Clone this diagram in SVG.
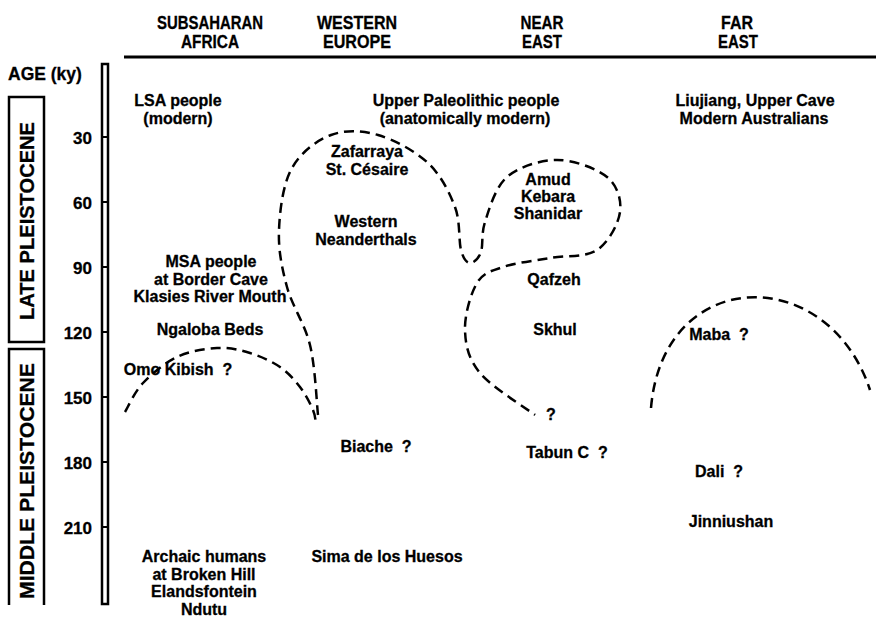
<svg xmlns="http://www.w3.org/2000/svg" width="876" height="618" viewBox="0 0 876 618">
<style>
text{font-family:"Liberation Sans",Arial,Helvetica,sans-serif;font-weight:bold;fill:#000;stroke:#000;stroke-width:0.3;white-space:pre}
.h{font-size:17.5px;text-anchor:middle}
.t{font-size:16px;text-anchor:middle}
.a{font-size:17px;text-anchor:end}
.p{font-size:20px;text-anchor:middle}
.box{fill:none;stroke:#000;stroke-width:2.5}
.dash{fill:none;stroke:#000;stroke-width:2.5;stroke-dasharray:10 6}
</style>
<rect width="876" height="618" fill="#fff"/>
<g id="headers">
<text class="h" x="210" y="29" textLength="106" lengthAdjust="spacingAndGlyphs">SUBSAHARAN</text>
<text class="h" x="210" y="48" textLength="58" lengthAdjust="spacingAndGlyphs">AFRICA</text>
<text class="h" x="357" y="29" textLength="80" lengthAdjust="spacingAndGlyphs">WESTERN</text>
<text class="h" x="357" y="48" textLength="68" lengthAdjust="spacingAndGlyphs">EUROPE</text>
<text class="h" x="542" y="29" textLength="43" lengthAdjust="spacingAndGlyphs">NEAR</text>
<text class="h" x="542" y="48" textLength="40" lengthAdjust="spacingAndGlyphs">EAST</text>
<text class="h" x="737" y="29" textLength="32" lengthAdjust="spacingAndGlyphs">FAR</text>
<text class="h" x="738" y="48" textLength="40" lengthAdjust="spacingAndGlyphs">EAST</text>
<line x1="124" y1="57" x2="876" y2="57" stroke="#000" stroke-width="3"/>
</g>
<g id="axis">
<text x="8" y="80" style="font-size:17.5px">AGE (ky)</text>
<rect class="box" x="102" y="64" width="6" height="540"/>
<g stroke="#000" stroke-width="2">
<line x1="102" y1="137" x2="108" y2="137"/><line x1="102" y1="202" x2="108" y2="202"/>
<line x1="102" y1="267" x2="108" y2="267"/><line x1="102" y1="332" x2="108" y2="332"/>
<line x1="102" y1="397" x2="108" y2="397"/><line x1="102" y1="462" x2="108" y2="462"/>
<line x1="102" y1="527" x2="108" y2="527"/>
</g>
<text class="a" x="92" y="144">30</text><text class="a" x="92" y="209">60</text>
<text class="a" x="92" y="274">90</text><text class="a" x="92" y="339">120</text>
<text class="a" x="92" y="404">150</text><text class="a" x="92" y="469">180</text>
<text class="a" x="92" y="534">210</text>
</g>
<g id="late-pleistocene">
<rect class="box" x="9" y="97" width="35" height="245"/>
<text class="p" transform="translate(34,221) rotate(-90)" textLength="198" lengthAdjust="spacingAndGlyphs">LATE PLEISTOCENE</text>
</g>
<g id="middle-pleistocene">
<path class="box" d="M9,605 V349 H44 V605"/>
<text class="p" transform="translate(34,481) rotate(-90)" textLength="236" lengthAdjust="spacingAndGlyphs">MIDDLE PLEISTOCENE</text>
</g>
<g id="connectors">
<path class="dash" d="M318,415 C316.7,403.3 315.2,366.3 310,345 C304.8,323.7 292.2,306.2 287,287 C281.8,267.8 278.2,249.8 279,230 C279.8,210.2 283,183.8 292,168 C301,152.2 316.3,140.5 331,135 C345.7,129.5 361.8,130.3 378,135 C394.2,139.7 415.2,151 428,163 C440.8,175 449.5,192.5 455,207 C460.5,221.5 458.5,240.7 461,250 C463.5,259.3 466.7,262.7 470,263 C473.3,263.3 478.7,258.8 481,252 C483.3,245.2 481,234.5 485,222 C489,209.5 495.2,187.3 507,177 C518.8,166.7 540.3,160 557,160 C573.7,160 596.5,168.3 607,177 C617.5,185.7 621.7,199.8 620,212 C618.3,224.2 608.7,242.3 597,250 C585.3,257.7 565.7,255.2 550,258 C534.3,260.8 515.2,262.8 503,267 C490.8,271.2 483.3,272.5 477,283 C470.7,293.5 464.5,315 465,330 C465.5,345 468.3,358.8 480,373 C491.7,387.2 525.8,408 535,415"/>
<path class="dash" d="M125,412 C128,407.2 134.3,392.2 143,383 C151.7,373.8 164.7,362.8 177,357 C189.3,351.2 204.8,348.7 217,348 C229.2,347.3 239.5,349.8 250,353 C260.5,356.2 271.7,361.3 280,367 C288.3,372.7 294.5,379.8 300,387 C305.5,394.2 310.3,403.7 313,410 C315.7,416.3 315.5,422.5 316,425"/>
<path class="dash" d="M651,408 C663,265 828,262 870,390"/>
</g>
<g id="africa">
<text class="t" x="178" y="106">LSA people</text><text class="t" x="178" y="124">(modern)</text>
<text class="t" x="211" y="267">MSA people</text><text class="t" x="211" y="285">at Border Cave</text><text class="t" x="210" y="302">Klasies River Mouth</text>
<text class="t" x="210" y="335">Ngaloba Beds</text>
<text class="t" x="178" y="375">Omo Kibish  ?</text>
<text class="t" x="204" y="562">Archaic humans</text><text class="t" x="204" y="580">at Broken Hill</text><text class="t" x="204" y="597">Elandsfontein</text><text class="t" x="204" y="615">Ndutu</text>
</g>
<g id="europe">
<text class="t" x="466" y="106">Upper Paleolithic people</text><text class="t" x="465" y="124">(anatomically modern)</text>
<text class="t" x="367" y="157">Zafarraya</text><text class="t" x="367" y="175">St. Césaire</text>
<text class="t" x="366" y="227">Western</text><text class="t" x="366" y="245">Neanderthals</text>
<text class="t" x="376" y="452">Biache  ?</text>
<text class="t" x="387" y="562">Sima de los Huesos</text>
</g>
<g id="near-east">
<text class="t" x="548" y="185">Amud</text><text class="t" x="548" y="202">Kebara</text><text class="t" x="548" y="219">Shanidar</text>
<text class="t" x="554" y="285">Qafzeh</text>
<text class="t" x="555" y="335">Skhul</text>
<text class="t" x="551" y="420">?</text>
<text class="t" x="567" y="458">Tabun C  ?</text>
</g>
<g id="far-east">
<text class="t" x="755" y="106">Liujiang, Upper Cave</text><text class="t" x="754" y="124">Modern Australians</text>
<text class="t" x="719" y="340">Maba  ?</text>
<text class="t" x="719" y="477">Dali  ?</text>
<text class="t" x="731" y="527">Jinniushan</text>
</g>
</svg>
